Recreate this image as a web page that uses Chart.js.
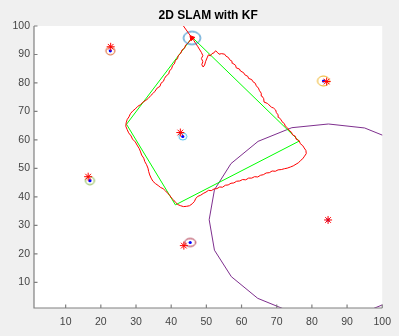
<!DOCTYPE html>
<html>
<head>
<meta charset="utf-8">
<script src="https://cdn.jsdelivr.net/npm/chart.js@4"></script>
<style>
html, body { margin: 0; padding: 0; background: #f0f0f0; }
</style>
</head>
<body>
<canvas id="myChart" width="399" height="336"></canvas>
<script>
var xTicks = [10, 20, 30, 40, 50, 60, 70, 80, 90, 100];
var yTicks = [10, 20, 30, 40, 50, 60, 70, 80, 90, 100];

// ground truth robot path
var trueX = [46.0, 27.3, 41.2, 76.4, 46.0];
var trueY = [96.0, 65.5, 37.2, 59.6, 96.0];

// KF estimate of the robot path (one lap, counter clockwise from the top)
var estX = [45.9, 45.3, 44.9, 44.1, 43.8, 43.1, 42.7, 42.0, 41.8, 41.2,
            40.9, 40.4, 40.1, 39.5, 39.3, 38.6, 38.1, 37.8, 37.1, 36.8,
            36.0, 35.4, 34.9, 34.2, 33.5, 32.8, 32.0, 31.3, 30.5, 29.8,
            29.1, 28.4, 28.0, 27.5, 27.2, 27.1, 27.5, 27.9, 28.6, 29.0,
            29.8, 30.3, 30.9, 31.3, 31.6, 32.2, 32.5, 33.0, 33.4, 33.6,
            33.9, 34.3, 34.8, 35.5, 36.3, 37.0, 37.7, 38.4, 39.0, 39.6,
            40.1, 40.7, 41.3, 41.9, 42.7, 43.5, 44.4, 45.2, 46.0, 46.6,
            47.0, 47.6, 48.4, 49.1, 49.9, 50.6, 51.4, 52.2, 53.0, 53.8,
            54.6, 55.4, 56.2, 57.0, 57.8, 58.6, 59.5, 60.3, 61.2, 62.0,
            62.9, 63.7, 64.6, 65.4, 66.2, 67.0, 67.9, 68.7, 69.6, 70.4,
            71.3, 72.2, 73.0, 73.9, 74.7, 75.5, 76.2, 76.8, 77.4, 77.9,
            78.4, 78.3, 77.8, 77.4, 76.7, 76.4, 75.5, 75.3, 74.5, 74.2,
            73.5, 73.1, 72.4, 72.2, 71.5, 71.2, 70.6, 70.4, 69.9, 69.7,
            69.1, 68.5, 67.8, 67.4, 66.4, 66.3, 65.8, 65.6, 65.1, 64.8,
            64.2, 63.9, 63.2, 62.9, 62.0, 61.8, 60.9, 60.6, 59.7, 59.4,
            58.5, 58.3, 57.5, 57.3, 56.6, 56.3, 55.5, 55.2, 54.3, 53.6,
            53.1, 52.6, 52.2, 51.6, 51.1, 50.6, 50.2, 49.8, 49.5, 49.1,
            48.7, 49.0, 48.6, 49.0, 48.6, 48.0, 47.5, 47.0, 46.5, 45.9];
var estY = [95.8, 94.9, 94.1, 93.3, 92.2, 91.6, 90.4, 89.6, 88.5, 87.9,
            86.7, 86.1, 85.0, 84.2, 83.2, 82.5, 81.6, 80.6, 79.9, 78.8,
            78.2, 77.1, 76.4, 75.6, 74.6, 73.9, 73.3, 72.4, 71.8, 70.9,
            70.2, 69.2, 68.1, 67.2, 66.0, 64.8, 63.6, 62.5, 61.4, 60.3,
            59.3, 58.2, 57.0, 55.8, 54.7, 53.6, 52.4, 51.3, 50.1, 48.9,
            47.7, 46.6, 45.5, 44.7, 44.0, 43.3, 42.9, 42.1, 41.3, 40.5,
            39.6, 38.9, 38.0, 37.3, 36.9, 36.6, 36.7, 36.9, 37.6, 38.4,
            39.5, 40.2, 40.6, 41.2, 41.7, 42.3, 42.2, 42.8, 42.9, 43.5,
            43.4, 44.1, 44.2, 44.8, 44.9, 45.5, 45.6, 46.1, 46.0, 46.6,
            46.6, 47.1, 47.0, 47.6, 47.8, 48.4, 48.5, 49.1, 49.0, 49.5,
            49.6, 49.9, 50.1, 50.5, 50.9, 51.5, 52.0, 52.8, 53.4, 54.3,
            55.2, 56.3, 57.2, 58.0, 58.7, 59.7, 60.3, 61.3, 61.8, 62.7,
            63.4, 64.2, 64.9, 65.7, 66.4, 67.2, 67.9, 68.8, 69.6, 70.5,
            71.2, 71.5, 72.3, 72.8, 73.3, 74.5, 75.4, 76.4, 77.3, 78.2,
            79.0, 79.9, 80.5, 81.2, 81.6, 82.3, 82.9, 83.6, 84.2, 84.9,
            85.3, 86.2, 86.9, 87.6, 88.2, 88.9, 89.5, 90.1, 90.3, 90.1,
            90.8, 91.3, 90.6, 90.3, 89.5, 89.9, 88.8, 87.6, 86.3, 85.6,
            86.4, 87.5, 88.6, 89.6, 90.7, 91.9, 92.9, 93.8, 94.8, 95.8];

// landmarks: true positions and filter estimates
var lmTrueX = [22.8, 42.6, 16.4, 43.6, 84.2, 84.6];
var lmTrueY = [92.7, 62.6, 47.1, 22.9, 80.5, 31.9];
var lmEstX = [22.7, 43.3, 16.9, 45.4, 83.3, 84.6];
var lmEstY = [91.3, 61.2, 45.7, 24.0, 80.7, 31.9];

// current robot pose estimate and heading tip
var robotX = [45.9];
var robotY = [95.8];
var headX = [45.9, 43.2];
var headY = [95.8, 100.5];

// covariance ellipse of the last landmark (just initialised, very wide)
var lm6EllX = [104.6, 95.0, 84.7, 74.3, 64.7, 57.0, 52.3, 50.8, 52.3, 57.1, 64.6, 74.1, 84.6, 95.1, 104.6];
var lm6EllY = [59.4, 64.2, 65.6, 64.3, 59.5, 51.7, 42.5, 32.0, 21.3, 12.0, 4.4, -0.4, -2.1, -0.4, 4.4];

function pts(xs, ys) {
    return xs.map(function (x, i) { return { x: x, y: ys[i] }; });
}

// little ellipse sprites used as point markers
function ellipseImg(rx, ry, color) {
    var c = document.createElement('canvas');
    c.width = Math.ceil(rx * 2 + 4);
    c.height = Math.ceil(ry * 2 + 4);
    var g = c.getContext('2d');
    g.strokeStyle = color;
    g.lineWidth = 1;
    g.beginPath();
    g.ellipse(c.width / 2, c.height / 2, rx, ry, 0, 0, Math.PI * 2);
    g.stroke();
    return c;
}

var ellColors = ['#D95319', '#4DBEEE', '#77AC30', '#A2142F', '#EDB120'];
var ellSizes = [[4.5, 4], [4, 3.5], [4.5, 4], [5.5, 4], [6, 5]];
var ellImgs = ellColors.map(function (c, i) { return ellipseImg(ellSizes[i][0], ellSizes[i][1], c); });
var robotImg = ellipseImg(8.5, 6.5, '#0072BD');

var tickFont = { family: '"Liberation Sans", Arial, sans-serif', size: 10.5 };

var figure = {
    id: 'figure',
    beforeDraw: function (chart) {
        var c = chart.ctx, a = chart.chartArea;
        c.save();
        c.fillStyle = '#f0f0f0';
        c.fillRect(0, 0, chart.width, chart.height);
        c.fillStyle = '#ffffff';
        c.fillRect(a.left, a.top, a.right - a.left, a.bottom - a.top);
        c.restore();
    },
    afterDatasetsDraw: function (chart) {
        var c = chart.ctx, a = chart.chartArea;
        var sx = chart.scales.x, sy = chart.scales.y;
        c.save();
        c.strokeStyle = '#808080';
        c.lineWidth = 1.2;
        c.beginPath();
        c.moveTo(a.left, a.top);
        c.lineTo(a.left, a.bottom);
        c.lineTo(a.right, a.bottom);
        // inward tick marks
        xTicks.forEach(function (v) {
            var p = sx.getPixelForValue(v);
            c.moveTo(p, a.bottom);
            c.lineTo(p, a.bottom - 3.5);
        });
        yTicks.forEach(function (v) {
            var p = sy.getPixelForValue(v);
            c.moveTo(a.left, p);
            c.lineTo(a.left + 3.5, p);
        });
        c.stroke();
        c.restore();
    },
    afterDraw: function (chart) {
        var c = chart.ctx, a = chart.chartArea;
        c.save();
        c.fillStyle = '#000';
        c.font = 'bold 12px "Liberation Sans", Arial, sans-serif';
        c.textAlign = 'center';
        c.textBaseline = 'middle';
        c.fillText('2D SLAM with KF', (a.left + a.right) / 2, 15.5);
        c.restore();
    }
};

var ctx = document.getElementById('myChart').getContext('2d');
var myChart = new Chart(ctx, {
    type: 'scatter',
    data: {
        datasets: [{
            label: 'true landmarks',
            data: pts(lmTrueX, lmTrueY),
            pointStyle: 'star',
            pointRadius: 4,
            borderColor: '#ff0000',
            borderWidth: 1,
            order: 0
        }, {
            label: 'estimated landmarks',
            data: pts(lmEstX, lmEstY),
            pointStyle: 'circle',
            pointRadius: 1.6,
            backgroundColor: '#0000ff',
            borderWidth: 0,
            order: 1
        }, {
            label: 'robot',
            data: pts(robotX, robotY),
            pointStyle: 'triangle',
            rotation: -40,
            pointRadius: 3,
            backgroundColor: '#ff0000',
            borderColor: '#ff0000',
            borderWidth: 1,
            order: 1
        }, {
            label: 'heading',
            data: pts(headX, headY),
            showLine: true,
            borderColor: '#ff0000',
            borderWidth: 1,
            pointRadius: 0,
            order: 1
        }, {
            label: 'landmark ellipses',
            data: pts(lmEstX.slice(0, 5), lmEstY.slice(0, 5)),
            pointStyle: ellImgs,
            order: 2
        }, {
            label: 'robot ellipse',
            data: pts(robotX, robotY),
            pointStyle: robotImg,
            order: 2
        }, {
            label: 'estimated path',
            data: pts(estX, estY),
            showLine: true,
            borderColor: '#ff0000',
            borderWidth: 1,
            pointRadius: 0,
            order: 3
        }, {
            label: 'true path',
            data: pts(trueX, trueY),
            showLine: true,
            borderColor: '#00ff00',
            borderWidth: 1,
            pointRadius: 0,
            order: 4
        }, {
            label: 'landmark 6 ellipse',
            data: pts(lm6EllX, lm6EllY),
            showLine: true,
            borderColor: '#7E2F8E',
            borderWidth: 1,
            pointRadius: 0,
            order: 5
        }]
    },
    options: {
        responsive: false,
        animation: false,
        devicePixelRatio: 1,
        layout: { padding: { top: 26, left: 0, right: 9, bottom: 0 } },
        plugins: {
            legend: { display: false },
            tooltip: { enabled: false },
            title: { display: false }
        },
        scales: {
            x: {
                type: 'linear',
                min: 1,
                max: 100,
                grid: { display: false, drawTicks: false },
                border: { display: false },
                ticks: { font: tickFont, color: '#444', padding: 8, maxRotation: 0, autoSkip: false },
                afterBuildTicks: function (s) { s.ticks = xTicks.map(function (v) { return { value: v }; }); },
                afterFit: function (s) { s.height = 28; }
            },
            y: {
                type: 'linear',
                min: 1,
                max: 100,
                grid: { display: false, drawTicks: false },
                border: { display: false },
                ticks: { font: tickFont, color: '#444', padding: 4, autoSkip: false },
                afterBuildTicks: function (s) { s.ticks = yTicks.map(function (v) { return { value: v }; }); },
                afterFit: function (s) { s.width = 34; }
            }
        }
    },
    plugins: [figure]
});
</script>
</body>
</html>
